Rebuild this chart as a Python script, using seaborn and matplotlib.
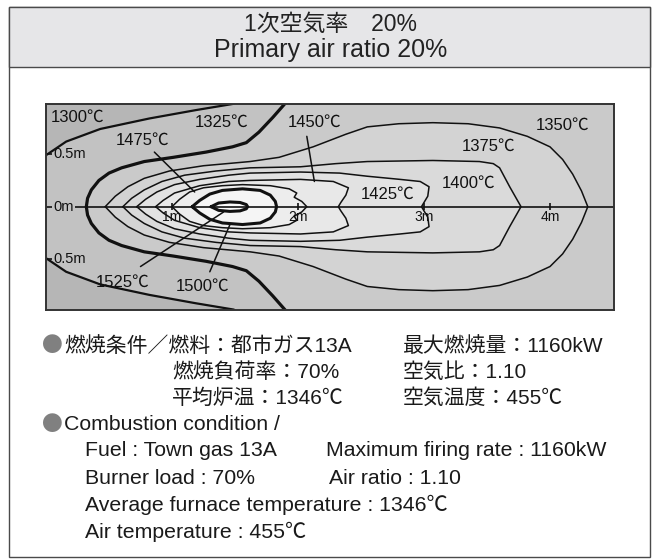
import numpy as np
import matplotlib
matplotlib.use('Agg')
import matplotlib.pyplot as plt
from matplotlib.patches import Rectangle
import seaborn as sns

sns.set_style('white')
plt.rcParams['font.family'] = ['Liberation Sans', 'Noto Sans CJK JP', 'DejaVu Sans']

# --- isotherms (upper half, metres; the flame is symmetric about 0m) ---
# open curve in the corners
c1300_x = np.array([0.0, 0.16, 0.43, 0.82, 1.19, 1.49, 1.52])
c1300_y = np.array([0.49, 0.62, 0.74, 0.84, 0.92, 0.98, 1.0])
# thick curve that leaves through the top/bottom edge
c1350_x = np.array([1.91, 1.80, 1.69, 1.59, 1.48, 1.27, 1.01, 0.78, 0.60, 0.50, 0.42, 0.36, 0.33, 0.32])
c1350_y = np.array([1.0, 0.85, 0.71, 0.61, 0.57, 0.52, 0.47, 0.43, 0.37, 0.32, 0.25, 0.16, 0.08, 0.0])
# closed curves, from the left tip to the right end
c1375_x = np.array([0.47, 0.55, 0.65, 0.78, 0.98, 1.25, 1.62, 1.85, 2.12, 2.38, 2.55, 2.80, 3.07,
                    3.35, 3.60, 3.82, 4.00, 4.10, 4.18, 4.25, 4.30])
c1375_y = np.array([0.0, 0.10, 0.19, 0.27, 0.34, 0.39, 0.43, 0.47, 0.57, 0.69, 0.76, 0.79, 0.80,
                    0.79, 0.75, 0.67, 0.57, 0.45, 0.31, 0.15, 0.0])
c1400_x = np.array([0.61, 0.68, 0.78, 0.92, 1.10, 1.35, 1.62, 2.02, 2.30, 2.55, 3.07, 3.44, 3.55,
                    3.60, 3.68, 3.77])
c1400_y = np.array([0.0, 0.08, 0.16, 0.24, 0.30, 0.34, 0.37, 0.38, 0.41, 0.43, 0.44, 0.43, 0.41,
                    0.37, 0.19, 0.0])
c1425_x = np.array([0.72, 0.79, 0.88, 1.02, 1.22, 1.45, 1.62, 2.02, 2.33, 2.55, 2.81, 2.97, 3.04,
                    3.03, 2.98])
c1425_y = np.array([0.0, 0.07, 0.14, 0.21, 0.26, 0.30, 0.32, 0.33, 0.32, 0.29, 0.26, 0.24, 0.19,
                    0.10, 0.0])
c1450_x = np.array([0.87, 0.93, 1.02, 1.22, 1.45, 1.62, 2.02, 2.28, 2.40, 2.38, 2.34, 2.32])
c1450_y = np.array([0.0, 0.06, 0.13, 0.20, 0.24, 0.25, 0.26, 0.24, 0.18, 0.11, 0.04, 0.0])
c1475_x = np.array([1.0, 1.06, 1.14, 1.25, 1.40, 1.56, 1.78, 1.93, 1.99, 1.97, 2.03, 2.07])
c1475_y = np.array([0.0, 0.07, 0.14, 0.18, 0.20, 0.21, 0.20, 0.17, 0.13, 0.09, 0.05, 0.0])
c1500_x = np.array([1.16, 1.22, 1.30, 1.40, 1.56, 1.70, 1.78, 1.82, 1.83])
c1500_y = np.array([0.0, 0.06, 0.12, 0.155, 0.17, 0.155, 0.11, 0.05, 0.0])
c1525_x = np.array([1.31, 1.37, 1.46, 1.54, 1.59, 1.60])
c1525_y = np.array([0.0, 0.035, 0.045, 0.04, 0.02, 0.0])

# region labels and leaders
temp_labels = ['1300℃', '1325℃', '1450℃', '1475℃', '1350℃', '1375℃', '1400℃', '1425℃', '1525℃', '1500℃']
temp_x = [0.25, 1.39, 2.13, 0.77, 4.10, 3.51, 3.35, 2.71, 0.61, 1.24]
temp_y = [0.85, 0.80, 0.80, 0.63, 0.78, 0.58, 0.22, 0.12, -0.72, -0.76]
leader_x0 = [2.07, 0.86, 0.75, 1.30]
leader_y0 = [0.67, 0.52, -0.57, -0.62]
leader_x1 = [2.13, 1.18, 1.41, 1.46]
leader_y1 = [0.24, 0.14, -0.05, -0.17]

x_ticks = [1, 2, 3, 4]
x_tick_labels = ['1m', '2m', '3m', '4m']
y_ticks = [0.5, 0.0, -0.5]
y_tick_labels = ['0.5m', '0m', '0.5m']

X_MAX = 4.508
Y_MIN, Y_MAX = -0.984, 0.978

W, H = 654, 559
fig = plt.figure(figsize=(W / 100, H / 100), dpi=100)


def fx(px):
    return px / W


def fy(py):
    return 1 - py / H


# outer frame and header band
fig.add_artist(Rectangle((fx(9), fy(557)), fx(650) - fx(9), fy(7) - fy(557), transform=fig.transFigure,
                         facecolor='white', edgecolor='#4a4a4a', lw=1.0, zorder=0))
fig.add_artist(Rectangle((fx(9), fy(67)), fx(650) - fx(9), fy(7) - fy(67), transform=fig.transFigure,
                         facecolor='#e6e6e8', edgecolor='#4a4a4a', lw=1.0, zorder=1))
fig.text(fx(331), fy(24), '1次空気率　20%', ha='center', va='center', fontsize=16.5, color='#222222')
fig.text(fx(331), fy(50), 'Primary air ratio 20%', ha='center', va='center', fontsize=18, color='#222222')

ax = fig.add_axes([fx(46), fy(310), (614 - 46) / W, (310 - 104) / H])
ax.set_xlim(0, X_MAX)
ax.set_ylim(Y_MIN, Y_MAX)
ax.set_facecolor('#b6b6b6')


def closed(xs, ys):
    return np.r_[xs, xs[::-1]], np.r_[ys, -ys[::-1]]


# shaded bands, outside in
px, py = np.r_[c1300_x, X_MAX, X_MAX, c1300_x[::-1]], np.r_[c1300_y, 1.0, -1.0, -c1300_y[::-1]]
ax.fill(px, py, color='#c2c2c2', lw=0)
px, py = np.r_[c1350_x, c1350_x[::-1], X_MAX, X_MAX], np.r_[c1350_y, -c1350_y[::-1], -1.0, 1.0]
ax.fill(px, py, color='#cacaca', lw=0)

closed_curves = [
    (c1375_x, c1375_y, '#d3d3d3', 1.1),
    (c1400_x, c1400_y, '#dadada', 1.1),
    (c1425_x, c1425_y, '#e2e2e2', 1.1),
    (c1450_x, c1450_y, '#e8e8e8', 1.1),
    (c1475_x, c1475_y, '#ededed', 1.1),
    (c1500_x, c1500_y, '#f5f5f5', 2.2),
    (c1525_x, c1525_y, '#fbfbfb', 2.2),
]
for xs, ys, shade, lw in closed_curves:
    cx, cy = closed(xs, ys)
    ax.fill(cx, cy, color=shade, lw=0)

# isotherm lines
for sgn in (1, -1):
    sns.lineplot(x=c1300_x, y=sgn * c1300_y, sort=False, estimator=None, color='#111111', lw=1.6, ax=ax)
cx, cy = np.r_[c1350_x, c1350_x[::-1]], np.r_[c1350_y, -c1350_y[::-1]]
sns.lineplot(x=cx, y=cy, sort=False, estimator=None, color='#111111', lw=2.3, ax=ax)
for xs, ys, shade, lw in closed_curves:
    cx, cy = closed(xs, ys)
    sns.lineplot(x=cx, y=cy, sort=False, estimator=None, color='#111111', lw=lw, ax=ax)

# centre line and scale
ax.hlines(0, 0.23, X_MAX, color='#111111', lw=1.2)
ax.hlines(y_ticks, 0, 0.05, color='#111111', lw=1.2)
for t, lab in zip(y_ticks, y_tick_labels):
    ax.text(0.06, t, lab, ha='left', va='center', fontsize=10.5, color='#111111')
ax.vlines(x_ticks, -0.035, 0.035, color='#111111', lw=1.2)
for t, lab in zip(x_ticks, x_tick_labels):
    ax.text(t, -0.1, lab, ha='center', va='center', fontsize=10, color='#111111')

for x0, y0, x1, y1 in zip(leader_x0, leader_y0, leader_x1, leader_y1):
    ax.plot([x0, x1], [y0, y1], color='#111111', lw=1.1)
for lab, x, y in zip(temp_labels, temp_x, temp_y):
    ax.text(x, y, lab, ha='center', va='center', fontsize=12, color='#111111')

ax.set_xticks([])
ax.set_yticks([])
ax.set_xlabel('')
ax.set_ylabel('')
for s in ax.spines.values():
    s.set_color('#333333')
    s.set_linewidth(1.4)

# combustion conditions
dot = dict(ha='left', va='center', fontsize=15, color='#808080', family=['Noto Sans CJK JP'])
jp = dict(ha='left', va='center', fontsize=15, color='#1a1a1a')
en = dict(ha='left', va='center', fontsize=15.3, color='#1a1a1a')

fig.text(fx(42), fy(346), '●', **dot)
fig.text(fx(64), fy(346), '燃焼条件／燃料：都市ガス13A', **jp)
fig.text(fx(403), fy(346), '最大燃焼量：1160kW', **jp)
fig.text(fx(172), fy(372), '燃焼負荷率：70%', **jp)
fig.text(fx(403), fy(372), '空気比：1.10', **jp)
fig.text(fx(172), fy(398), '平均炉温：1346℃', **jp)
fig.text(fx(403), fy(398), '空気温度：455℃', **jp)
fig.text(fx(42), fy(425), '●', **dot)
fig.text(fx(64), fy(425), 'Combustion condition /', **en)
fig.text(fx(85), fy(451), 'Fuel : Town gas 13A', **en)
fig.text(fx(326), fy(451), 'Maximum firing rate : 1160kW', **en)
fig.text(fx(85), fy(478), 'Burner load : 70%', **en)
fig.text(fx(329), fy(478), 'Air ratio : 1.10', **en)
fig.text(fx(85), fy(505), 'Average furnace temperature : 1346℃', **en)
fig.text(fx(85), fy(532), 'Air temperature : 455℃', **en)

fig.savefig('out.png', dpi=100)
